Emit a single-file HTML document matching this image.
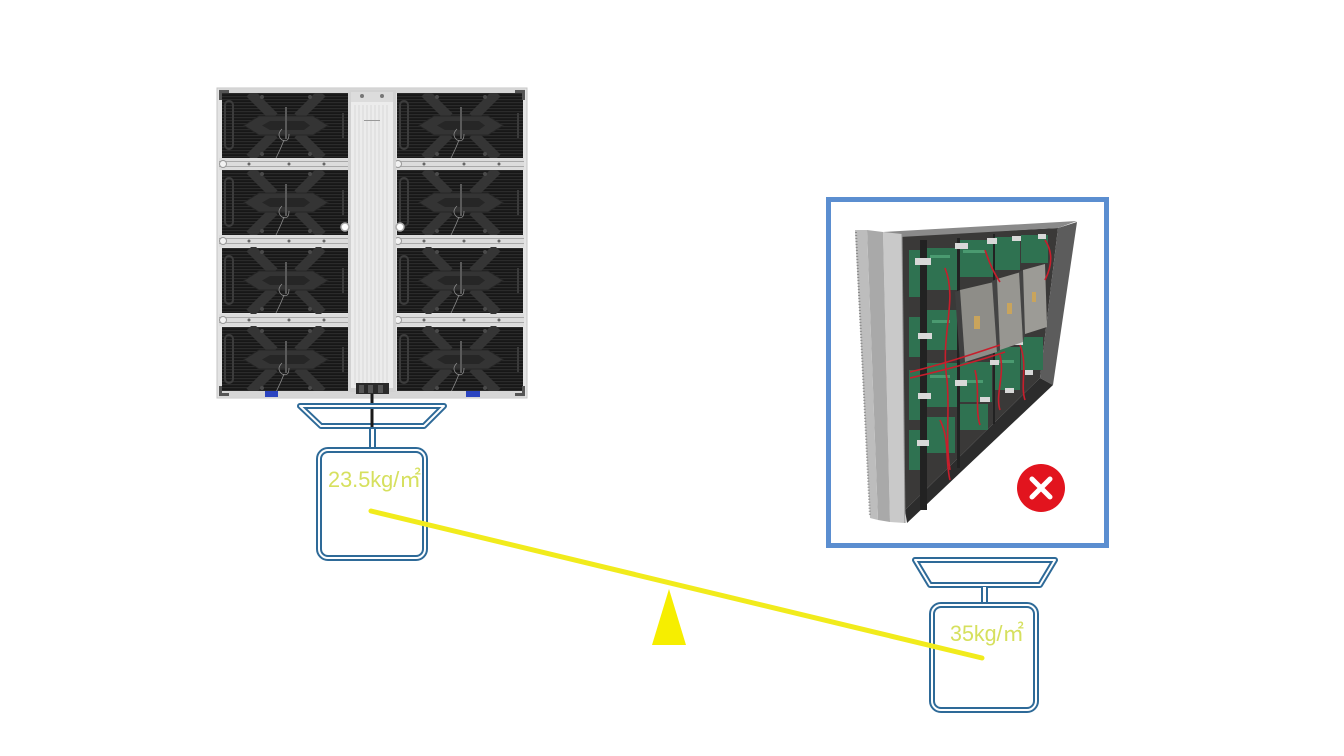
<!DOCTYPE html>
<html><head><meta charset="utf-8"><style>
html,body{margin:0;padding:0;background:#fff;width:1344px;height:756px;overflow:hidden}
svg{display:block}
</style></head><body>
<svg width="1344" height="756" viewBox="0 0 1344 756" xmlns="http://www.w3.org/2000/svg">
<defs>
<pattern id="stripes" width="4" height="3" patternUnits="userSpaceOnUse">
<rect width="4" height="3" fill="#171717"/>
<rect y="0" width="4" height="1.2" fill="#2b2b2b"/>
</pattern>
<g id="mod">
<rect x="0" y="0" width="126" height="65" fill="url(#stripes)"/>
<rect x="3" y="8" width="8" height="48" rx="4" fill="none" stroke="#3c3c3c" stroke-width="2"/>
<g stroke="#353535" stroke-width="10">
<line x1="28" y1="0" x2="52" y2="24"/>
<line x1="100" y1="0" x2="76" y2="24"/>
<line x1="28" y1="65" x2="52" y2="41"/>
<line x1="100" y1="65" x2="76" y2="41"/>
</g>
<polygon points="22,32.5 37,23 91,23 106,32.5 91,42 37,42" fill="#343434" stroke="#262626" stroke-width="1"/>
<polygon points="40,32.5 48,28 82,28 88,32.5 82,37 48,37" fill="#262626"/>
<line x1="64" y1="14" x2="64" y2="46" stroke="#5a5a5a" stroke-width="2"/>
<path d="M60,36 q-6,6 0,11 q7,3 7,-6 M62,47 q-3,8 -8,18" stroke="#8a8a8a" stroke-width="0.8" fill="none"/>
<circle cx="40" cy="4" r="2" fill="#4a4a4a"/><circle cx="88" cy="4" r="2" fill="#4a4a4a"/>
<circle cx="40" cy="61" r="2" fill="#4a4a4a"/><circle cx="88" cy="61" r="2" fill="#4a4a4a"/>
<rect x="120" y="20" width="2" height="25" fill="#3a3a3a"/>
</g>
<g id="bar">
<rect x="0" y="0" width="130" height="12" fill="#dcdcdc"/>
<rect x="0" y="3" width="130" height="1" fill="#a9a9a9"/>
<rect x="0" y="8" width="130" height="1" fill="#a9a9a9"/>
<circle cx="4" cy="6" r="3.5" fill="#f2f2f2" stroke="#999" stroke-width="1"/>
<circle cx="30" cy="6" r="1.5" fill="#666"/><circle cx="70" cy="6" r="1.5" fill="#666"/><circle cx="105" cy="6" r="1.5" fill="#666"/>
</g>
</defs>
<rect width="1344" height="756" fill="#fff"/>

<!-- LEFT CABINET -->
<rect x="217" y="88" width="310" height="310" fill="#e3e3e3" stroke="#c4c4c4" stroke-width="1"/>
<use href="#mod" x="222" y="93"/>
<use href="#mod" x="222" y="170"/>
<use href="#mod" x="222" y="248"/>
<use href="#mod" x="222" y="327"/>
<use href="#mod" x="397" y="93"/>
<use href="#mod" x="397" y="170"/>
<use href="#mod" x="397" y="248"/>
<use href="#mod" x="397" y="327"/>
<use href="#bar" x="219" y="158"/>
<use href="#bar" x="219" y="235"/>
<use href="#bar" x="219" y="314"/>
<use href="#bar" x="394" y="158"/>
<use href="#bar" x="394" y="235"/>
<use href="#bar" x="394" y="314"/>
<rect x="219" y="391" width="306" height="6" fill="#d6d6d6"/>
<rect x="219" y="89" width="306" height="4" fill="#d6d6d6"/>
<!-- corners -->
<path d="M219,90 h10 v3 h-7 v7 h-3z" fill="#555"/>
<path d="M525,90 h-10 v3 h7 v7 h3z" fill="#555"/>
<path d="M219,396 h10 v-3 h-7 v-7 h-3z" fill="#555"/>
<path d="M525,396 h-10 v-3 h7 v-7 h3z" fill="#555"/>
<!-- center box -->
<rect x="348" y="90" width="48" height="302" fill="#d2d2d2"/>
<rect x="351" y="92" width="42" height="296" fill="#ececec"/>
<g stroke="#d3d3d3" stroke-width="0.8">
<line x1="355" y1="105" x2="355" y2="385"/><line x1="359" y1="105" x2="359" y2="385"/>
<line x1="363" y1="105" x2="363" y2="385"/><line x1="367" y1="105" x2="367" y2="385"/>
<line x1="371" y1="105" x2="371" y2="385"/><line x1="375" y1="105" x2="375" y2="385"/>
<line x1="379" y1="105" x2="379" y2="385"/><line x1="383" y1="105" x2="383" y2="385"/>
<line x1="387" y1="105" x2="387" y2="385"/>
</g>
<rect x="351" y="92" width="42" height="10" fill="#dcdcdc"/>
<circle cx="362" cy="96" r="2" fill="#777"/><circle cx="382" cy="96" r="2" fill="#777"/>
<rect x="364" y="120" width="16" height="1" fill="#999"/>
<circle cx="345" cy="227" r="4" fill="#fff" stroke="#aaa" stroke-width="1.5"/>
<circle cx="400" cy="227" r="4" fill="#fff" stroke="#aaa" stroke-width="1.5"/>
<rect x="356" y="383" width="33" height="11" fill="#2a2a2a"/>
<rect x="359" y="385" width="5" height="8" fill="#555"/><rect x="368" y="385" width="5" height="8" fill="#555"/><rect x="378" y="385" width="5" height="8" fill="#555"/>
<rect x="265" y="391" width="13" height="6" fill="#2b44c0"/>
<rect x="466" y="391" width="14" height="6" fill="#2b44c0"/>
<line x1="372" y1="394" x2="372" y2="427" stroke="#1a1a1a" stroke-width="3"/>

<!-- LEFT SCALE -->
<g fill="none" stroke-linejoin="round">
<polygon points="300,406 444,406 424,426 321,426" stroke="#2e6a98" stroke-width="6"/>
<polygon points="300,406 444,406 424,426 321,426" stroke="#fff" stroke-width="2"/>
<line x1="372.5" y1="429" x2="372.5" y2="448" stroke="#2e6a98" stroke-width="7"/>
<line x1="372.5" y1="429" x2="372.5" y2="449" stroke="#fff" stroke-width="3"/>
<rect x="319" y="450" width="106" height="108" rx="9" stroke="#2e6a98" stroke-width="6"/>
<rect x="319" y="450" width="106" height="108" rx="9" stroke="#fff" stroke-width="2"/>
</g>
<line x1="372" y1="410" x2="372" y2="427" stroke="#1a1a1a" stroke-width="3"/>
<text x="328" y="487" font-family="Liberation Sans, Noto Sans CJK SC, sans-serif" font-size="22" fill="#d6e05e" textLength="93" lengthAdjust="spacingAndGlyphs">23.5kg/㎡</text>

<!-- RIGHT PHOTO FRAME -->
<rect x="828.5" y="199.5" width="278" height="346" fill="#fff" stroke="#5b8ed0" stroke-width="5"/>
<!-- cabinet -->
<polygon points="900,236 1058,228 1040,378 905,510" fill="#3a3938"/>
<polygon points="1058,228 1077,222 1053,385 1040,378" fill="#5c5c5c"/>
<polygon points="905,510 1040,378 1053,385 907,523" fill="#2c2c2c"/>
<polygon points="883,232 1077,221 1058,228 900,237" fill="#8a8a8a"/>
<!-- green boards -->
<g fill="#2f7251">
<rect x="909" y="250" width="11" height="47"/><rect x="909" y="317" width="11" height="40"/>
<rect x="909" y="370" width="11" height="50"/><rect x="909" y="430" width="11" height="40"/>
<rect x="927" y="248" width="30" height="42"/><rect x="927" y="310" width="30" height="40"/>
<rect x="927" y="363" width="30" height="44"/><rect x="927" y="417" width="28" height="36"/>
<rect x="960" y="240" width="33" height="37"/><rect x="960" y="362" width="32" height="40"/>
<rect x="960" y="404" width="28" height="26"/>
<rect x="994" y="237" width="26" height="33"/><rect x="994" y="347" width="26" height="43"/>
<rect x="1021" y="235" width="27" height="28"/><rect x="1021" y="337" width="22" height="33"/>
</g>
<g fill="#4a9a70">
<rect x="930" y="255" width="20" height="3"/><rect x="932" y="320" width="18" height="3"/><rect x="930" y="375" width="20" height="3"/>
<rect x="963" y="250" width="22" height="3"/><rect x="996" y="360" width="18" height="3"/><rect x="963" y="380" width="20" height="3"/>
</g>
<g fill="#222">
<rect x="920" y="240" width="7" height="270"/><rect x="957" y="238" width="3" height="230"/>
<rect x="993" y="234" width="2" height="190"/>
</g>
<!-- ribbons -->
<g fill="#d8d8d8">
<rect x="915" y="258" width="16" height="7"/><rect x="918" y="333" width="14" height="6"/>
<rect x="918" y="393" width="13" height="6"/><rect x="917" y="440" width="12" height="6"/>
<rect x="955" y="243" width="13" height="6"/><rect x="987" y="238" width="10" height="6"/>
<rect x="1012" y="236" width="9" height="5"/><rect x="1038" y="234" width="8" height="5"/>
<rect x="955" y="380" width="12" height="6"/><rect x="980" y="397" width="10" height="5"/>
<rect x="1005" y="388" width="9" height="5"/><rect x="1025" y="370" width="8" height="5"/>
<rect x="990" y="360" width="9" height="5"/><rect x="1015" y="340" width="8" height="5"/>
</g>
<!-- power supplies -->
<polygon points="955,292 960,290 965,362 960,364" fill="#3f3f3f"/>
<polygon points="960,290 994,282 997,352 965,362" fill="#8e8d88"/>
<rect x="974" y="316" width="6" height="13" fill="#c9a45c"/>
<polygon points="992,281 997,279 1000,350 997,352" fill="#444"/>
<polygon points="997,279 1021,272 1023,342 1000,350" fill="#979691"/>
<rect x="1007" y="303" width="5" height="11" fill="#c9a45c"/>
<polygon points="1019,272 1023,270 1025,334 1023,342" fill="#444"/>
<polygon points="1023,270 1045,264 1047,327 1025,334" fill="#9c9b96"/>
<rect x="1032" y="292" width="4" height="10" fill="#c9a45c"/>
<!-- red wires -->
<g fill="none" stroke="#c81e2c" stroke-width="1.6">
<path d="M945,268 C958,300 940,335 947,380 C950,410 945,440 950,470"/>
<path d="M910,372 C940,365 970,355 1000,345"/>
<path d="M910,378 C945,370 975,362 1005,352"/>
<path d="M985,250 C990,265 995,275 1000,282"/>
<path d="M1045,240 C1055,255 1050,270 1045,280"/>
<path d="M1000,355 C1005,375 995,395 1000,410"/>
<path d="M1020,345 C1028,365 1020,385 1025,400"/>
<path d="M940,420 C950,440 945,460 950,480"/>
<path d="M975,370 C980,390 975,410 980,425"/>
</g>
<!-- silver left frame -->
<polygon points="883,232 902,234 905,523 890,522" fill="#c9c9c9"/>
<polygon points="867,230 883,232 890,522 878,520" fill="#a9a9a9"/>
<polygon points="855,230 867,230 878,520 870,518" fill="#bdbdbd"/>
<line x1="856" y1="232" x2="870" y2="516" stroke="#8a8a8a" stroke-width="2" stroke-dasharray="1 2"/>
<line x1="902" y1="234" x2="905" y2="523" stroke="#8f8f8f" stroke-width="1"/>
<!-- X badge -->
<circle cx="1041" cy="488" r="24" fill="#e2141e"/>
<g stroke="#fff" stroke-width="5" stroke-linecap="round">
<line x1="1032" y1="479" x2="1050" y2="497"/><line x1="1050" y1="479" x2="1032" y2="497"/>
</g>

<!-- RIGHT SCALE -->
<g fill="none" stroke-linejoin="round">
<polygon points="915,560 1055,560 1040,585 930,585" stroke="#2e6a98" stroke-width="6"/>
<polygon points="915,560 1055,560 1040,585 930,585" stroke="#fff" stroke-width="2"/>
<line x1="984.5" y1="588" x2="984.5" y2="603" stroke="#2e6a98" stroke-width="7"/>
<line x1="984.5" y1="587" x2="984.5" y2="604" stroke="#fff" stroke-width="3"/>
<rect x="932" y="605" width="104" height="105" rx="9" stroke="#2e6a98" stroke-width="6"/>
<rect x="932" y="605" width="104" height="105" rx="9" stroke="#fff" stroke-width="2"/>
</g>
<text x="950" y="641" font-family="Liberation Sans, Noto Sans CJK SC, sans-serif" font-size="22" fill="#d6e05e" textLength="74" lengthAdjust="spacingAndGlyphs">35kg/㎡</text>

<!-- seesaw -->
<line x1="371" y1="511" x2="982" y2="658" stroke="#f1eb1c" stroke-width="5" stroke-linecap="round"/>
<polygon points="669,589 652,645 686,645" fill="#f6ee00"/>
</svg>
</body></html>
